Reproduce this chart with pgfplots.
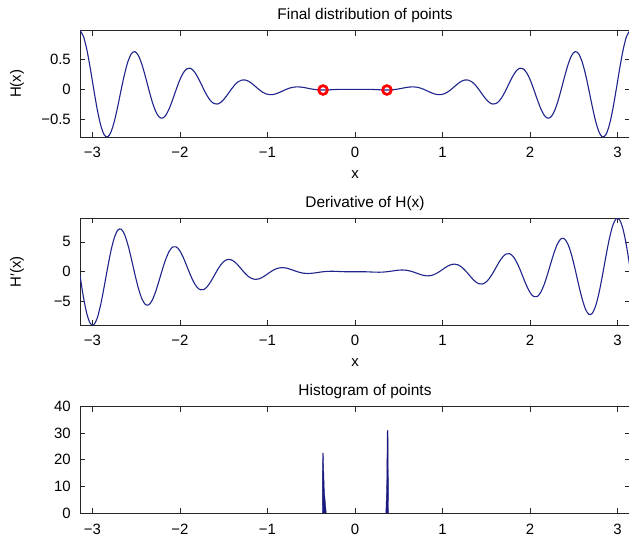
\documentclass[border=0pt]{standalone}
\usepackage{fontspec}
\setmainfont{Liberation Sans}
\usepackage{pgfplots}
\pgfplotsset{compat=1.18}
\usepackage{pgfplotstable}

\definecolor{curveblue}{rgb}{0.12,0.14,0.55}
\definecolor{histblue}{rgb}{0.10,0.10,0.50}

% x, H(x), H'(x)
\pgfplotstableread{
x H dH
-3.1416 0.986960 -0.628319
-3.1023 0.889182 -4.256311
-3.0631 0.663422 -7.067400
-3.0238 0.349895 -8.678730
-2.9845 0 -8.907314
-2.9452 -0.331955 -7.788766
-2.9060 -0.597124 -5.560260
-2.8667 -0.759246 -2.615172
-2.8274 -0.799438 0.565487
-2.7882 -0.718213 3.490092
-2.7489 -0.534314 5.731900
-2.7096 -0.280967 6.990585
-2.6704 0 7.130786
-2.6311 0.264915 6.194300
-2.5918 0.474994 4.383400
-2.5525 0.601954 2.021703
-2.5133 0.631654 -0.502655
-2.4740 0.565480 -2.799411
-2.4347 0.419164 -4.535960
-2.3955 0.219592 -5.484809
-2.3562 0 -5.551650
-2.3169 -0.205428 -4.782202
-2.2777 -0.366823 -3.346120
-2.2384 -0.462899 -1.503771
-2.1991 -0.483610 0.439823
-2.1598 -0.430985 2.184269
-2.1206 -0.317971 3.479610
-2.0813 -0.165771 4.161398
-2.0420 0 4.169906
-2.0028 0.153496 3.552473
-1.9635 0.272609 2.448410
-1.9242 0.342081 1.061381
-1.8850 0.355306 -0.376991
-1.8457 0.314725 -1.644663
-1.8064 0.230736 -2.562840
-1.7671 0.119504 -3.020356
-1.7279 0 -2.985554
-1.6886 -0.109117 -2.505111
-1.6493 -0.192353 -1.690280
-1.6101 -0.239499 -0.694528
-1.5708 -0.246740 0.314159
-1.5315 -0.216703 1.180595
-1.4923 -0.157459 1.785630
-1.4530 -0.080790 2.061679
-1.4137 0 1.998594
-1.3744 0.072292 1.640114
-1.3352 0.126055 1.071730
-1.2959 0.155154 0.403212
-1.2566 0.157914 -0.251327
-1.2174 0.136918 -0.792068
-1.1781 0.098140 -1.148000
-1.1388 0.049631 -1.285371
-1.0996 0 -1.209026
-1.0603 -0.043021 -0.957485
-1.0210 -0.073714 -0.592750
-0.9817 -0.089047 -0.187435
-0.9425 -0.088826 0.188496
-0.9032 -0.075369 0.479076
-0.8639 -0.052777 0.649950
-0.8247 -0.026025 0.691429
-0.7854 0 0.616850
-0.7461 0.021304 0.457226
-0.7069 0.035330 0.253340
-0.6676 0.041175 0.047197
-0.6283 0.039478 -0.125664
-0.5890 0.032057 -0.241624
-0.5498 0.021373 -0.291480
-0.5105 0.009973 -0.279854
-0.4712 0 -0.222066
-0.4320 -0.007141 -0.139333
-0.3927 -0.010905 -0.053508
-0.3534 -0.011540 0.017503
-0.3142 -0.009870 0.062832
-0.2749 -0.006981 0.079710
-0.2356 -0.003926 0.072578
-0.1963 -0.001475 0.050647
-0.1571 0 0.024674
-0.1178 0.000531 0.003806
-0.0785 0.000436 -0.006745
-0.0393 0.000143 -0.006666
0 0 0
0.0393 0.000143 0.006666
0.0785 0.000436 0.006745
0.1178 0.000531 -0.003806
0.1571 0 -0.024674
0.1963 -0.001475 -0.050647
0.2356 -0.003926 -0.072578
0.2749 -0.006981 -0.079710
0.3142 -0.009870 -0.062832
0.3534 -0.011540 -0.017503
0.3927 -0.010905 0.053508
0.4320 -0.007141 0.139333
0.4712 0 0.222066
0.5105 0.009973 0.279854
0.5498 0.021373 0.291480
0.5890 0.032057 0.241624
0.6283 0.039478 0.125664
0.6676 0.041175 -0.047197
0.7069 0.035330 -0.253340
0.7461 0.021304 -0.457226
0.7854 0 -0.616850
0.8247 -0.026025 -0.691429
0.8639 -0.052777 -0.649950
0.9032 -0.075369 -0.479076
0.9425 -0.088826 -0.188496
0.9817 -0.089047 0.187435
1.0210 -0.073714 0.592750
1.0603 -0.043021 0.957485
1.0996 0 1.209026
1.1388 0.049631 1.285371
1.1781 0.098140 1.148000
1.2174 0.136918 0.792068
1.2566 0.157914 0.251327
1.2959 0.155154 -0.403212
1.3352 0.126055 -1.071730
1.3744 0.072292 -1.640114
1.4137 0 -1.998594
1.4530 -0.080790 -2.061679
1.4923 -0.157459 -1.785630
1.5315 -0.216703 -1.180595
1.5708 -0.246740 -0.314159
1.6101 -0.239499 0.694528
1.6493 -0.192353 1.690280
1.6886 -0.109117 2.505111
1.7279 0 2.985554
1.7671 0.119504 3.020356
1.8064 0.230736 2.562840
1.8457 0.314725 1.644663
1.8850 0.355306 0.376991
1.9242 0.342081 -1.061381
1.9635 0.272609 -2.448410
2.0028 0.153496 -3.552473
2.0420 0 -4.169906
2.0813 -0.165771 -4.161398
2.1206 -0.317971 -3.479610
2.1598 -0.430985 -2.184269
2.1991 -0.483610 -0.439823
2.2384 -0.462899 1.503771
2.2777 -0.366823 3.346120
2.3169 -0.205428 4.782202
2.3562 0 5.551650
2.3955 0.219592 5.484809
2.4347 0.419164 4.535960
2.4740 0.565480 2.799411
2.5133 0.631654 0.502655
2.5525 0.601954 -2.021703
2.5918 0.474994 -4.383400
2.6311 0.264915 -6.194300
2.6704 0 -7.130786
2.7096 -0.280967 -6.990585
2.7489 -0.534314 -5.731900
2.7882 -0.718213 -3.490092
2.8274 -0.799438 -0.565487
2.8667 -0.759246 2.615172
2.9060 -0.597124 5.560260
2.9452 -0.331955 7.788766
2.9845 0 8.907314
3.0238 0.349895 8.678730
3.0631 0.663422 7.067400
3.1023 0.889182 4.256311
3.1416 0.986960 0.628319
}\curvedata

\pgfplotsset{
  matlab/.style={
    scale only axis,
    width=550bp, height=106.5bp,
    xmin=-3.1416, xmax=3.1416,
    xtick={-3,-2,-1,0,1,2,3},
    xticklabels={−3,−2,−1,0,1,2,3},
    /pgf/number format/assume math mode=true,
    font=\fontsize{15}{18}\selectfont,
    tick label style={font=\fontsize{15}{18}\selectfont},
    xticklabel style={anchor=base, inner sep=0pt, yshift=-21bp},
    yticklabel style={anchor=east, inner sep=0pt, xshift=-9bp},
    axis line style={black!85, line width=0.8bp},
    every tick/.style={black!85, line width=0.8bp},
    major tick length=5bp,
    tick align=inside,
    title style={at={(0.5,1)}, anchor=base, yshift=5bp, xshift=10bp,
      font=\fontsize{15.5}{18}\selectfont},
    xlabel style={at={(0.5,0)}, anchor=base, yshift=-42bp},
    ylabel style={at={(axis description cs:-0.1145,0.5)}, anchor=center},
  },
}

\begin{document}
\begin{tikzpicture}
\path[use as bounding box] (0,0) rectangle (629bp,538bp);

\begin{axis}[matlab, at={(80bp,401bp)}, anchor=south west,
  ymin=-0.7996, ymax=0.98696,
  ytick={-0.5,0,0.5}, yticklabels={−0.5,0,0.5},
  title={Final distribution of points}, xlabel={x}, ylabel={H(x)}]
  \addplot[curveblue, line width=1.1bp, smooth] table[x=x, y=H] {\curvedata};
  \addplot[only marks, mark=o, red, mark size=4.4bp, line width=2.7bp]
    coordinates {(-0.365,-0.0116) (0.365,-0.0116)};
\end{axis}

\begin{axis}[matlab, at={(80bp,213bp)}, anchor=south west,
  ymin=-8.93, ymax=8.93,
  ytick={-5,0,5}, yticklabels={−5,0,5},
  title={Derivative of H(x)}, xlabel={x}, ylabel={H′(x)}]
  \addplot[curveblue, line width=1.1bp, smooth] table[x=x, y=dH] {\curvedata};
\end{axis}

\begin{axis}[matlab, at={(80bp,25bp)}, anchor=south west,
  ymin=0, ymax=40,
  ytick={0,10,20,30,40},
  title={Histogram of points}]
  % outlines of the two narrow histogram spikes
  \addplot[fill=histblue, draw=histblue, line width=0.4bp]
    coordinates {(-0.374,0) (-0.371,22.5) (-0.363,22.5) (-0.350,8) (-0.328,0)} -- cycle;
  \addplot[fill=histblue, draw=histblue, line width=0.4bp]
    coordinates {(0.352,0) (0.362,10) (0.368,31) (0.377,31) (0.383,0)} -- cycle;
\end{axis}
\end{tikzpicture}
\end{document}
